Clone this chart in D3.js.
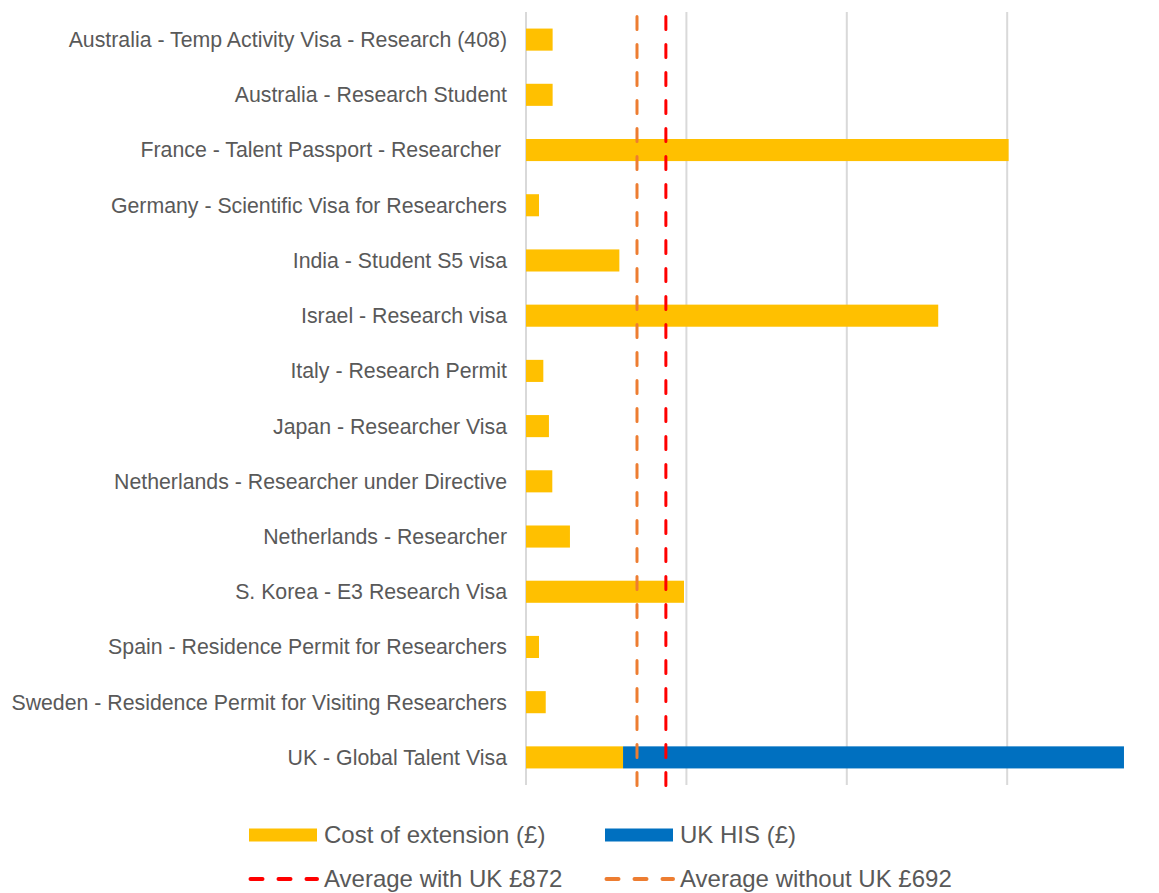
<!DOCTYPE html>
<html>
<head>
<meta charset="utf-8">
<script src="https://cdn.jsdelivr.net/npm/d3@7"></script>
<style>
  html, body { margin: 0; padding: 0; background: #fff; }
  svg { display: block; font-family: "Liberation Sans", Arial, sans-serif; }
</style>
</head>
<body>
<svg id="chart" width="1159" height="893"></svg>
<script>
const categories = [
  "Australia - Temp Activity Visa - Research (408)",
  "Australia - Research Student",
  "France - Talent Passport - Researcher ",
  "Germany - Scientific Visa for Researchers",
  "India - Student S5 visa",
  "Israel - Research visa",
  "Italy - Research Permit",
  "Japan - Researcher Visa",
  "Netherlands - Researcher under Directive",
  "Netherlands - Researcher",
  "S. Korea - E3 Research Visa",
  "Spain - Residence Permit for Researchers",
  "Sweden - Residence Permit for Visiting Researchers",
  "UK - Global Talent Visa"
];
const costOfExtension = [166, 166, 3009, 81, 582, 2570, 108, 143, 164, 274, 985, 81, 123, 605];
const ukHIS =           [0, 0, 0, 0, 0, 0, 0, 0, 0, 0, 0, 0, 0, 3123];
const averageWithUK = 872;
const averageWithoutUK = 692;
const xTicks = [0, 1000, 2000, 3000, 4000];
const seriesNames = ["Cost of extension (£)", "UK HIS (£)"];
const lineNames = ["Average with UK £872", "Average without UK £692"];

const colors = { cost: "#FFC000", his: "#0070C0", avgUK: "#FF0000", avgNoUK: "#ED7D31", grid: "#D9D9D9", text: "#595959" };

const svg = d3.select("#chart");
const plot = { left: 526, right: 1167.6, top: 12, bottom: 785 };

const x = d3.scaleLinear().domain([0, 4000]).range([plot.left, plot.right]);
const y = d3.scaleBand().domain(categories).range([plot.top, plot.bottom]).paddingInner(0.6).paddingOuter(0.3);

// gridlines
svg.append("g").selectAll("line").data(xTicks).join("line")
  .attr("x1", d => x(d)).attr("x2", d => x(d))
  .attr("y1", plot.top).attr("y2", plot.bottom)
  .attr("stroke", colors.grid).attr("stroke-width", 2);

const rows = categories.map((c, i) => ({ c, cost: costOfExtension[i], his: ukHIS[i] }));

// cost bars
svg.append("g").selectAll("rect").data(rows).join("rect")
  .attr("x", x(0)).attr("y", d => y(d.c))
  .attr("width", d => x(d.cost) - x(0))
  .attr("height", y.bandwidth())
  .attr("fill", colors.cost);

// HIS bars (stacked)
svg.append("g").selectAll("rect").data(rows.filter(d => d.his > 0)).join("rect")
  .attr("x", d => x(d.cost)).attr("y", d => y(d.c))
  .attr("width", d => x(d.cost + d.his) - x(d.cost))
  .attr("height", y.bandwidth())
  .attr("fill", colors.his);

// category labels
svg.append("g").selectAll("text").data(categories).join("text")
  .attr("x", 507).attr("y", d => y(d) + y.bandwidth() / 2)
  .attr("dy", "0.35em").attr("text-anchor", "end")
  .attr("font-size", "21.3px").attr("fill", colors.text)
  .style("white-space", "pre")
  .text(d => d);

// average lines
const avgs = [
  { v: averageWithoutUK, color: colors.avgNoUK },
  { v: averageWithUK, color: colors.avgUK }
];
svg.append("g").selectAll("line").data(avgs).join("line")
  .attr("x1", d => x(d.v)).attr("x2", d => x(d.v))
  .attr("y1", 16.5).attr("y2", 788)
  .attr("stroke", d => d.color).attr("stroke-width", 3)
  .attr("stroke-linecap", "round")
  .attr("stroke-dasharray", "13,15");

// legend
const legend = svg.append("g");
const legendItems = [
  { name: seriesNames[0], type: "rect", color: colors.cost, x: 249, y: 835 },
  { name: seriesNames[1], type: "rect", color: colors.his, x: 605, y: 835 },
  { name: lineNames[0], type: "line", color: colors.avgUK, x: 249, y: 879 },
  { name: lineNames[1], type: "line", color: colors.avgNoUK, x: 605, y: 879 }
];
legendItems.forEach(it => {
  if (it.type === "rect") {
    legend.append("rect").attr("x", it.x).attr("y", it.y - 6.5).attr("width", 68).attr("height", 13).attr("fill", it.color);
  } else {
    legend.append("line").attr("x1", it.x + 1.5).attr("x2", it.x + 68).attr("y1", it.y).attr("y2", it.y)
      .attr("stroke", it.color).attr("stroke-width", 4).attr("stroke-linecap", "round").attr("stroke-dasharray", "12,16");
  }
  legend.append("text").attr("x", it.x + 75).attr("y", it.y).attr("dy", "0.35em")
    .attr("font-size", "24px").attr("fill", colors.text).text(it.name);
});
</script>
</body>
</html>
